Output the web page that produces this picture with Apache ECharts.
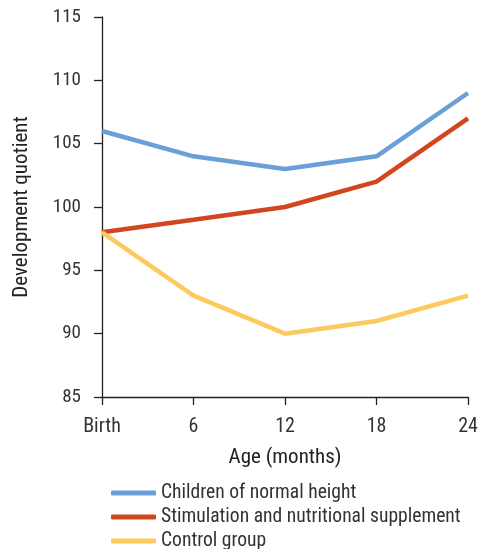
<!DOCTYPE html>
<html>
<head>
<meta charset="utf-8">
<script src="https://cdn.jsdelivr.net/npm/echarts@6/dist/echarts.min.js"></script>
<style>
    html, body { margin: 0; padding: 0; background: #fff; }
    #chart { width: 483px; height: 549px; }
</style>
</head>
<body>
<div id="chart"></div>
<script>
"use strict";

var ages = ['Birth', '6', '12', '18', '24'];
var normalHeight = [106, 104, 103, 104, 109];
var stimulation = [98, 99, 100, 102, 107];
var control = [98, 93, 90, 91, 93];

var font = '"Liberation Sans Narrow", "Roboto Condensed", Roboto, sans-serif';

var chart = echarts.init(document.getElementById('chart'));
chart.setOption({
    animation: false,
    textStyle: { fontFamily: font },
    grid: {
        left: 102,
        right: 15,
        top: 17,
        bottom: 152,
        containLabel: false
    },
    legend: {
        orient: 'vertical',
        left: 106,
        top: 477,
        height: 80,
        itemWidth: 45,
        itemHeight: 5,
        itemGap: 2,
        icon: 'roundRect',
        textStyle: { fontSize: 19.6, color: '#333', fontFamily: font, lineHeight: 22 },
        data: ['Children of normal height', 'Stimulation and nutritional supplement', 'Control group']
    },
    xAxis: {
        type: 'category',
        data: ages,
        boundaryGap: false,
        name: 'Age (months)',
        nameLocation: 'middle',
        nameGap: 50,
        nameTextStyle: { fontSize: 21, color: '#222', fontFamily: font },
        axisLine: { lineStyle: { color: '#222', width: 1.3 } },
        axisTick: { alignWithLabel: true, length: 8, lineStyle: { color: '#222', width: 1.3 } },
        axisLabel: { fontSize: 20, color: '#333', margin: 20, fontFamily: font }
    },
    yAxis: {
        type: 'value',
        min: 85,
        max: 115,
        interval: 5,
        name: 'Development quotient',
        nameLocation: 'middle',
        nameGap: 70,
        nameTextStyle: { fontSize: 21, color: '#222', fontFamily: font },
        axisLine: { show: true, lineStyle: { color: '#222', width: 1.3 } },
        axisTick: { show: true, length: 8, lineStyle: { color: '#222', width: 1.3 } },
        axisLabel: { fontSize: 19, color: '#333', margin: 21, fontFamily: font },
        splitLine: { show: false }
    },
    series: [{
        name: 'Children of normal height',
        type: 'line',
        data: normalHeight,
        symbol: 'none',
        color: '#6a9fd8',
        lineStyle: { width: 4.5 }
    }, {
        name: 'Stimulation and nutritional supplement',
        type: 'line',
        data: stimulation,
        symbol: 'none',
        color: '#d2461f',
        lineStyle: { width: 4.5 }
    }, {
        name: 'Control group',
        type: 'line',
        data: control,
        symbol: 'none',
        color: '#fdca60',
        lineStyle: { width: 4.5 }
    }]
});
</script>
</body>
</html>
